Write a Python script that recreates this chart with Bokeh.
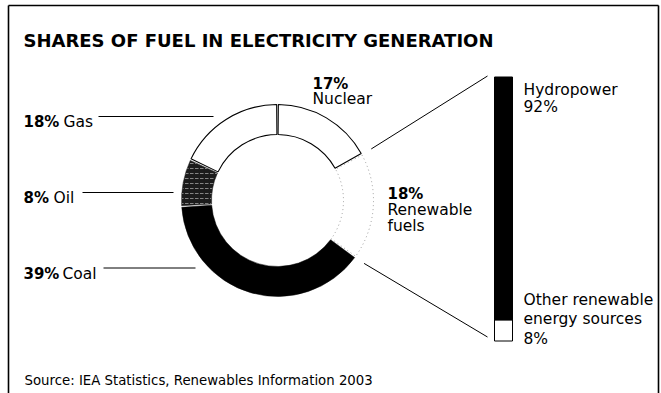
import math
from bokeh.plotting import figure
from bokeh.models import Range1d
from bokeh.core.properties import value
from bokeh.embed import file_html
from bokeh.resources import INLINE

# ---- data -------------------------------------------------------------
fuels = ["Nuclear", "Renewable fuels", "Coal", "Oil", "Gas"]
shares = [17, 18, 39, 8, 18]          # % of electricity generation
renew_parts = ["Hydropower", "Other renewable energy sources"]
renew_shares = [92, 8]                # % of renewable fuels

title = "SHARES OF FUEL IN ELECTRICITY GENERATION"
source = "Source: IEA Statistics, Renewables Information 2003"

# ---- canvas -----------------------------------------------------------
W, H = 661, 393
p = figure(width=W, height=H, x_range=Range1d(0, W), y_range=Range1d(0, H),
           output_backend="svg", toolbar_location=None, min_border=0)
p.axis.visible = False
p.grid.visible = False
p.outline_line_color = None
p.background_fill_color = "white"


def Y(py):
    """Convert a top-down page offset to the y axis."""
    return H - py


FONT = value("DejaVu Sans")

# frame around the graphic
p.segment(x0=[8, 8, 658], y0=[Y(5), Y(5), Y(5)],
          x1=[658, 8, 658], y1=[Y(5), Y(393), Y(393)],
          line_color="black", line_width=1.6)

# title
p.text(x=[23], y=[Y(40)], text=[title], text_font=FONT,
       text_font_style="bold", text_font_size="18px",
       text_baseline="alphabetic", text_color="black")

# ---- donut --------------------------------------------------------------
cx, cy = 277, Y(200)
r_in, r_out = 66, 96
pad = 0.5  # degrees trimmed at each end of a segment

styles = {
    "Nuclear": dict(fill_color="white", line_color="black", line_width=1.1),
    "Renewable fuels": dict(fill_color="white", line_color="#9a9a9a",
                            line_width=1, line_dash="1 3"),
    "Coal": dict(fill_color="black", line_color="black", line_width=0.5),
    "Oil": dict(fill_color="#1c1c1c", line_color="#1c1c1c", line_width=0.5,
                hatch_pattern="horizontal_dash", hatch_color="#a0a0a0",
                hatch_scale=5, hatch_weight=0.8),
    "Gas": dict(fill_color="white", line_color="black", line_width=1.1),
}

angles = {}
cum = 0.0
for name, s in zip(fuels, shares):
    a0 = 90 - cum * 3.6
    cum += s
    a1 = 90 - cum * 3.6
    angles[name] = (a0, a1)
    p.annular_wedge(x=cx, y=cy, inner_radius=r_in, outer_radius=r_out,
                    start_angle=math.radians(a0 - pad),
                    end_angle=math.radians(a1 + pad),
                    direction="clock", **styles[name])

# ---- renewable breakdown bar -------------------------------------------
bx0, bx1 = 494, 512
b_bot, b_top = Y(340.5), Y(76.5)
scale = (b_top - b_bot) / sum(renew_shares)
bar_colors = {"Hydropower": "black", "Other renewable energy sources": "white"}
bottom = b_bot
for name, s in reversed(list(zip(renew_parts, renew_shares))):
    top = bottom + s * scale
    p.quad(left=bx0, right=bx1, bottom=bottom, top=top,
           fill_color=bar_colors[name], line_color="black", line_width=1)
    bottom = top

# connectors from the renewable segment to the bar
ra0, ra1 = angles["Renewable fuels"]
r_c = 107
p.segment(x0=[cx + r_c * math.cos(math.radians(ra0)),
              cx + r_c * math.cos(math.radians(ra1))],
          y0=[cy + r_c * math.sin(math.radians(ra0)),
              cy + r_c * math.sin(math.radians(ra1))],
          x1=[487, 487], y1=[b_top + 1, b_bot + 4],
          line_color="black", line_width=1)

# ---- labels --------------------------------------------------------------
share_of = dict(zip(fuels, shares))
renew_of = dict(zip(renew_parts, renew_shares))

BOLD_SIZE = "15px"
REG_SIZE = "15.5px"


def bold(x, py, t):
    p.text(x=[x], y=[Y(py)], text=[t], text_font=FONT, text_font_style="bold",
           text_font_size=BOLD_SIZE, text_baseline="alphabetic",
           text_color="black")


def reg(x, py, t):
    p.text(x=[x], y=[Y(py)], text=[t], text_font=FONT,
           text_font_size=REG_SIZE, text_baseline="alphabetic",
           text_color="black")


# left-hand labels with leader lines
left = [("Gas", 121.5, 63, 98, 213, 116),
        ("Oil", 197.5, 53, 82, 173, 192),
        ("Coal", 273, 62, 103, 195, 267.5)]
for name, base, tx, lx0, lx1, ly in left:
    bold(23, base, f"{share_of[name]}%")
    reg(tx, base, name)
    p.segment(x0=[lx0], y0=[Y(ly)], x1=[lx1], y1=[Y(ly)],
              line_color="black", line_width=1)

# nuclear
bold(312, 83, f"{share_of['Nuclear']}%")
reg(312, 98.5, "Nuclear")

# renewable fuels
bold(387, 193, f"{share_of['Renewable fuels']}%")
reg(387, 209, "Renewable")
reg(387, 225, "fuels")

# bar labels
reg(523, 89, "Hydropower")
reg(523, 106, f"{renew_of['Hydropower']}%")
reg(523, 299, "Other renewable")
reg(523, 318, "energy sources")
reg(523, 338, f"{renew_of['Other renewable energy sources']}%")

# source note
p.text(x=[24], y=[Y(379.5)], text=[source], text_font=FONT,
       text_font_size="13.3px", text_baseline="alphabetic",
       text_color="black")

open("out.html", "w").write(file_html(p, INLINE))
